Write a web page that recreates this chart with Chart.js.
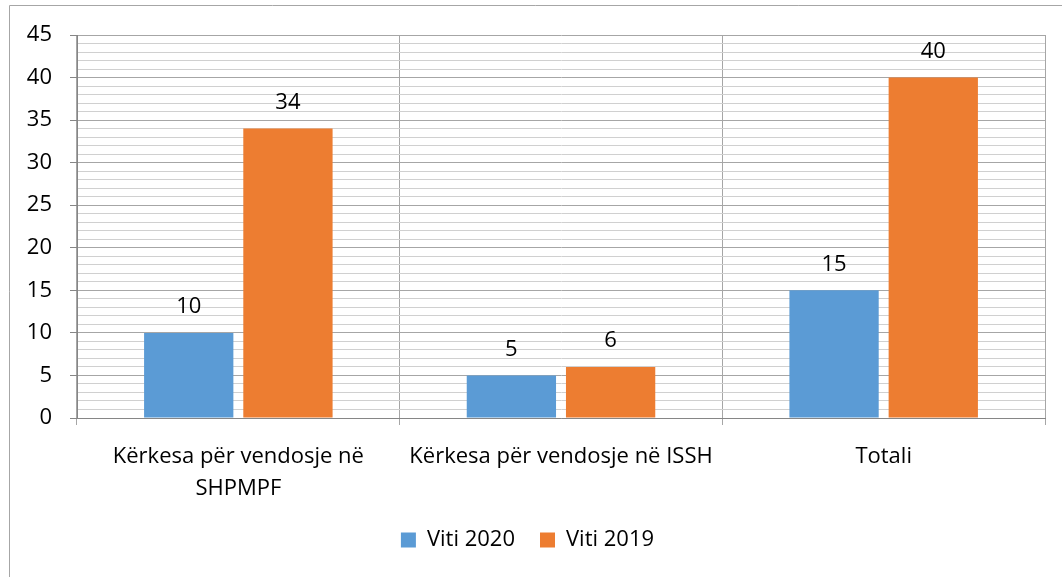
<!DOCTYPE html>
<html>
<head>
<meta charset="utf-8">
<script src="https://cdn.jsdelivr.net/npm/chart.js@4"></script>
<style>
  html, body { margin:0; padding:0; background:#fff; overflow:hidden; }
  #wrap { width:1062px; height:577px; position:relative; }
</style>
</head>
<body>
<div id="wrap"><canvas id="c" width="1062" height="577"></canvas></div>
<script>
// data
const categories = [['Kërkesa për vendosje në', 'SHPMPF'], 'Kërkesa për vendosje në ISSH', 'Totali'];
const viti2020 = [10, 5, 15];
const viti2019 = [34, 6, 40];
const yMax = 45;

const FONT = '"Open Sans", Lato, sans-serif';

// value labels above bars
const barLabels = {
  id: 'barLabels',
  afterDatasetsDraw(chart) {
    const ctx = chart.ctx;
    ctx.save();
    ctx.font = '22px ' + FONT;
    ctx.fillStyle = '#000';
    ctx.textAlign = 'center';
    ctx.textBaseline = 'middle';
    chart.data.datasets.forEach((ds, i) => {
      chart.getDatasetMeta(i).data.forEach((bar, j) => {
        ctx.fillText(ds.data[j], bar.x, bar.y - 26);
      });
    });
    ctx.restore();
  }
};

// chart frame (left and top border)
const frame = {
  id: 'frame',
  beforeDraw(chart) {
    const ctx = chart.ctx;
    ctx.save();
    ctx.strokeStyle = '#a6a6a6';
    ctx.lineWidth = 1;
    ctx.beginPath();
    ctx.moveTo(9.5, 577); ctx.lineTo(9.5, 5.5); ctx.lineTo(1062, 5.5);
    ctx.stroke();
    ctx.restore();
  }
};

new Chart(document.getElementById('c'), {
  type: 'bar',
  data: {
    labels: categories,
    datasets: [
      { label: 'Viti 2020', data: viti2020, backgroundColor: '#5B9BD5' },
      { label: 'Viti 2019', data: viti2019, backgroundColor: '#ED7D31' }
    ]
  },
  options: {
    responsive: false,
    animation: false,
    layout: { padding: { left: 10, right: 17, top: 35, bottom: 16 } },
    datasets: { bar: { barPercentage: 0.9, categoryPercentage: 0.615 } },
    plugins: {
      tooltip: { enabled: false },
      legend: {
        position: 'bottom',
        labels: {
          font: { family: FONT, size: 22 },
          color: '#000',
          boxWidth: 15, boxHeight: 15,
          padding: 25
        }
      }
    },
    scales: {
      x: {
        afterFit: s => { s.height = 86; },
        grid: { color: '#a6a6a6', tickLength: 7, offset: true },
        border: { color: '#868686' },
        ticks: { font: { family: FONT, size: 22, lineHeight: 1.45 }, color: '#000', padding: 16, maxRotation: 0 }
      },
      y: {
        min: 0, max: yMax,
        afterFit: s => { s.width = 67; },
        grid: {
          color: c => c.tick.value % 5 === 0 ? '#a6a6a6' : '#d0d0d0',
          tickColor: c => c.tick && c.tick.value % 5 === 0 ? '#868686' : 'rgba(0,0,0,0)',
          tickLength: 7
        },
        border: { color: '#868686' },
        ticks: {
          stepSize: 1, autoSkip: false,
          font: { family: FONT, size: 22 }, color: '#000', padding: 18,
          callback: v => v % 5 === 0 ? v : ''
        }
      }
    }
  },
  plugins: [barLabels, frame]
});
</script>
</body>
</html>
